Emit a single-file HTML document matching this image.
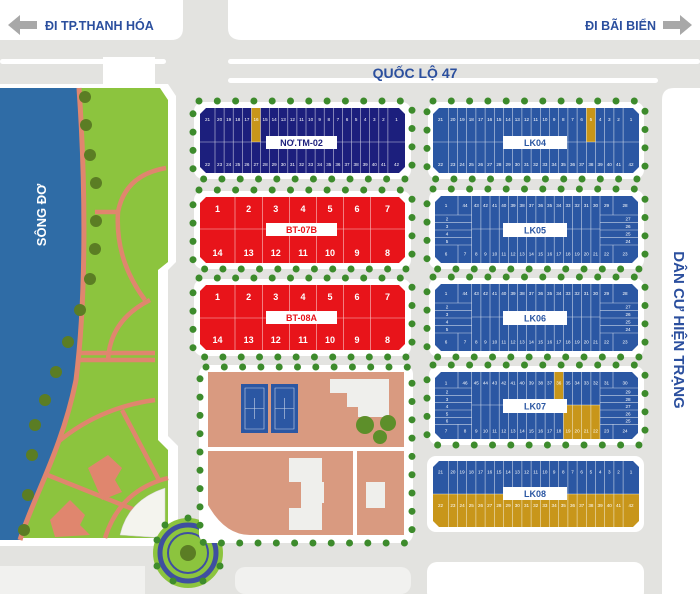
<!DOCTYPE html>
<html><head><meta charset="utf-8"><style>
html,body{margin:0;padding:0;background:#e3e3e0}
svg{display:block}
.n{font-family:"Liberation Sans Narrow","Liberation Sans",sans-serif;font-size:4.6px;fill:#fff;text-anchor:middle}
.b{font-family:"Liberation Sans",sans-serif;font-size:9px;font-weight:bold;fill:#fff;text-anchor:middle}
.lb{font-family:"Liberation Sans Narrow","Liberation Sans",sans-serif;font-size:9px;font-weight:bold;text-anchor:middle}
.ln{stroke:#fff;stroke-width:.6;stroke-opacity:.75;fill:none}
.tr{fill:none;stroke:#3d8b2c;stroke-width:7;stroke-linecap:round;stroke-dasharray:0 18.3}
.wh{fill:#fff}
</style></head><body>
<svg width="700" height="594" viewBox="0 0 700 594" xmlns="http://www.w3.org/2000/svg">
<rect width="700" height="594" fill="#e3e3e0"/>
<!-- top white areas -->
<path d="M0 0H183V28Q183 40 171 40H0Z" class="wh"/>
<path d="M228 0H700V40H242Q228 40 228 28Z" class="wh"/>
<rect x="0" y="59" width="166" height="5" rx="2.5" class="wh"/>
<rect x="228" y="59" width="472" height="5" rx="2.5" class="wh"/>
<rect x="228" y="78" width="430" height="5" rx="2.5" class="wh"/>
<rect x="103" y="57" width="52" height="30" class="wh"/>
<!-- arrows -->
<path d="M8 25L20 15V21H37V29H20V35Z" fill="#a8a8a8"/>
<path d="M692 25L680 15V21H663V29H680V35Z" fill="#a8a8a8"/>
<text x="45" y="30" font-family="Liberation Sans,sans-serif" font-size="12.5" font-weight="bold" fill="#2b4f9e">ĐI TP.THANH HÓA</text>
<text x="656" y="30" font-family="Liberation Sans,sans-serif" font-size="12.5" font-weight="bold" fill="#2b4f9e" text-anchor="end">ĐI BÃI BIỂN</text>
<text x="415" y="78" font-family="Liberation Sans,sans-serif" font-size="14" font-weight="bold" fill="#2b4f9e" text-anchor="middle">QUỐC LỘ 47</text>
<!-- right white area -->
<path d="M674 88H700V594H662V100Q662 88 674 88Z" class="wh"/>
<text transform="translate(674,330) rotate(90)" font-family="Liberation Sans,sans-serif" font-size="15" font-weight="bold" fill="#2b4f9e" text-anchor="middle">DÂN CƯ HIỆN TRẠNG</text>
<!-- park white border and park -->
<path d="M0 84H168L176 96V262L168 270V436L178 446V540Q178 546 172 546H0Z" class="wh"/>
<path d="M0 88H160L168 100V262L158 270V440L168 450V538H0Z" fill="#8cc43e"/>
<!-- park paths -->
<g fill="none" stroke="#e0866e" stroke-width="4.5">
<path d="M166 168Q125 175 118 212Q115 260 145 300"/>
<path d="M95 212H118"/>
<path d="M150 300Q110 320 108 360"/>
<path d="M62 353H155M62 360H155"/>
<path d="M155 400Q80 410 30 470"/>
<path d="M30 468L140 512"/>
<path d="M122 410L160 482"/>
<path d="M168 478Q120 490 105 538"/>
</g>
<path d="M88 468L108 455L122 468L115 480L122 492L102 500Z" fill="#e0866e"/>
<path d="M50 520L70 500L85 515L80 525L90 535L55 537Z" fill="#e0866e"/>
<path d="M120 535Q128 500 165 488V538Z" fill="#f4f4ee" stroke="#ccc" stroke-width=".5"/>
<!-- river -->
<path d="M0 88H79C86 190 86 300 76 380C62 450 32 500 20 540H0Z" fill="#2f6ca6"/>
<path d="M79 88C86 190 86 300 76 380C62 450 32 500 20 540" fill="none" stroke="#e0866e" stroke-width="5"/>
<g fill="#5b7d24"><circle cx="85" cy="97" r="6"/><circle cx="86" cy="125" r="6"/><circle cx="90" cy="155" r="6"/><circle cx="96" cy="183" r="6"/><circle cx="96" cy="221" r="6"/><circle cx="95" cy="249" r="6"/><circle cx="90" cy="279" r="6"/><circle cx="80" cy="310" r="6"/><circle cx="68" cy="342" r="6"/><circle cx="56" cy="372" r="6"/><circle cx="45" cy="400" r="6"/><circle cx="35" cy="425" r="6"/><circle cx="32" cy="455" r="6"/><circle cx="28" cy="495" r="6"/><circle cx="24" cy="530" r="6"/></g>
<text transform="translate(46,215) rotate(-90)" font-family="Liberation Sans,sans-serif" font-size="13" font-weight="bold" fill="#fff" text-anchor="middle">SÔNG ĐƠ</text>
<!-- bottom -->
<rect x="0" y="566" width="145" height="28" fill="#f1f1ef"/>
<rect x="235" y="567" width="176" height="27" rx="10" fill="#f1f1ef"/>
<rect x="427" y="562" width="217" height="40" rx="10" class="wh"/>
<!-- roundabout -->
<circle cx="188" cy="553" r="35" fill="#8cc43e"/>
<circle cx="188" cy="553" r="28" fill="none" stroke="#3f4fa0" stroke-width="5"/>
<circle cx="188" cy="553" r="20" fill="none" stroke="#3f4fa0" stroke-width="2"/>
<circle cx="188" cy="553" r="8" fill="#5b7d24"/>
<g fill="#3d8b2c"><circle cx="157" cy="540" r="3.5"/><circle cx="165" cy="525" r="3.5"/><circle cx="188" cy="518" r="3.5"/><circle cx="211" cy="525" r="3.5"/><circle cx="220" cy="540" r="3.5"/><circle cx="220" cy="566" r="3.5"/><circle cx="157" cy="566" r="3.5"/><circle cx="173" cy="581" r="3.5"/><circle cx="203" cy="581" r="3.5"/></g>

<!-- block white surrounds -->
<g class="wh">
<rect x="194" y="102" width="217" height="77" rx="9"/>
<rect x="194" y="191" width="217" height="78" rx="9"/>
<rect x="194" y="279" width="217" height="77" rx="9"/>
<rect x="428" y="102" width="216" height="77" rx="9"/>
<rect x="429" y="190" width="215" height="79" rx="9"/>
<rect x="429" y="278" width="215" height="79" rx="9"/>
<rect x="429" y="366" width="215" height="79" rx="9"/>
<rect x="427" y="456" width="217" height="76" rx="9"/>
<rect x="199" y="365" width="214" height="178" rx="9"/>
</g>
<!-- trees -->
<rect class="tr" x="193" y="101" width="219" height="78" rx="6"/>
<rect class="tr" x="193" y="190" width="219" height="79" rx="6"/>
<rect class="tr" x="193" y="278" width="219" height="79" rx="6"/>
<rect class="tr" x="427" y="101" width="218" height="78" rx="6"/>
<rect class="tr" x="427" y="189" width="218" height="80" rx="6"/>
<rect class="tr" x="427" y="277" width="218" height="80" rx="6"/>
<rect class="tr" x="427" y="365" width="218" height="80" rx="6"/>
<rect class="tr" x="200" y="367" width="212" height="176" rx="6"/>

<!-- sports -->
<rect x="208" y="372" width="196" height="75" fill="#d99a80"/>
<path d="M208 451H353V535H250Q225 535 208 505Z" fill="#d99a80"/>
<rect x="357" y="451" width="47" height="84" fill="#d99a80"/>
<rect x="241" y="384" width="27" height="49" fill="#2b57a3"/>
<rect x="271" y="384" width="27" height="49" fill="#2b57a3"/>
<g class="ln"><path d="M245 388H264V429H245ZM275 388H294V429H275ZM245 408.5H264M275 408.5H294M254.5 398V419M284.5 398V419"/></g>
<path d="M330 379H389V417H358V407H347V393H330Z" fill="#efefec"/>
<g fill="#5d8f2a"><circle cx="365" cy="425" r="9"/><circle cx="388" cy="423" r="8"/><circle cx="380" cy="437" r="7"/></g>
<path d="M289 458H322V482H324V503H322V530H289V508H301V482H289Z" fill="#efefec"/>
<rect x="366" y="482" width="19" height="26" fill="#efefec"/>

<!-- NƠ.TM-02 -->
<path d="M206 108H399L405 114V167L399 173H206L200 167V114Z" fill="#1c1f7d"/>
<rect x="251.4" y="108" width="9.1" height="34" fill="#c8961a"/>
<path class="ln" d="M200 142H405M215 108V173M224.1 108V173M233.2 108V173M242.3 108V173M251.4 108V173M260.5 108V173M269.6 108V173M278.7 108V173M287.8 108V173M296.9 108V173M306 108V173M315.1 108V173M324.2 108V173M333.3 108V173M342.4 108V173M351.5 108V173M360.6 108V173M369.7 108V173M378.8 108V173M387.9 108V173"/>
<text class="n" y="121"><tspan x="207.5">21</tspan><tspan x="219.6">20</tspan><tspan x="228.7">19</tspan><tspan x="237.8">18</tspan><tspan x="246.9">17</tspan><tspan x="256">16</tspan><tspan x="265.1">15</tspan><tspan x="274.2">14</tspan><tspan x="283.3">13</tspan><tspan x="292.4">12</tspan><tspan x="301.5">11</tspan><tspan x="310.6">10</tspan><tspan x="319.7">9</tspan><tspan x="328.8">8</tspan><tspan x="337.9">7</tspan><tspan x="347">6</tspan><tspan x="356.1">5</tspan><tspan x="365.2">4</tspan><tspan x="374.3">3</tspan><tspan x="383.4">2</tspan><tspan x="396.5">1</tspan></text>
<text class="n" y="166"><tspan x="207.5">22</tspan><tspan x="219.6">23</tspan><tspan x="228.7">24</tspan><tspan x="237.8">25</tspan><tspan x="246.9">26</tspan><tspan x="256">27</tspan><tspan x="265.1">28</tspan><tspan x="274.2">29</tspan><tspan x="283.3">30</tspan><tspan x="292.4">31</tspan><tspan x="301.5">32</tspan><tspan x="310.6">33</tspan><tspan x="319.7">34</tspan><tspan x="328.8">35</tspan><tspan x="337.9">36</tspan><tspan x="347">37</tspan><tspan x="356.1">38</tspan><tspan x="365.2">39</tspan><tspan x="374.3">40</tspan><tspan x="383.4">41</tspan><tspan x="396.5">42</tspan></text>
<rect x="266" y="136" width="71" height="13" fill="#fff"/>
<text class="lb" x="301.5" y="146" fill="#1c1f7d">NƠ.TM-02</text>

<!-- BT-07B -->
<path d="M206 197H399L405 203V257L399 263H206L200 257V203Z" fill="#e8141a"/>
<path class="ln" d="M200 229H405M235 197V263M262.3 197V263M289.3 197V263M316.7 197V263M343.3 197V263M370.7 197V263"/>
<text class="b" y="212"><tspan x="217.5">1</tspan><tspan x="248.6">2</tspan><tspan x="275.8">3</tspan><tspan x="303">4</tspan><tspan x="330">5</tspan><tspan x="357">6</tspan><tspan x="387.5">7</tspan></text>
<text class="b" y="256"><tspan x="217.5">14</tspan><tspan x="248.6">13</tspan><tspan x="275.8">12</tspan><tspan x="303">11</tspan><tspan x="330">10</tspan><tspan x="357">9</tspan><tspan x="387.5">8</tspan></text>
<rect x="266" y="223" width="71" height="13" fill="#fff"/>
<text class="lb" x="301.5" y="233" fill="#e8141a">BT-07B</text>

<!-- BT-08A -->
<path d="M206 285H399L405 291V344L399 350H206L200 344V291Z" fill="#e8141a"/>
<path class="ln" d="M200 318H405M235 285V350M262.3 285V350M289.3 285V350M316.7 285V350M343.3 285V350M370.7 285V350"/>
<text class="b" y="300"><tspan x="217.5">1</tspan><tspan x="248.6">2</tspan><tspan x="275.8">3</tspan><tspan x="303">4</tspan><tspan x="330">5</tspan><tspan x="357">6</tspan><tspan x="387.5">7</tspan></text>
<text class="b" y="343"><tspan x="217.5">14</tspan><tspan x="248.6">13</tspan><tspan x="275.8">12</tspan><tspan x="303">11</tspan><tspan x="330">10</tspan><tspan x="357">9</tspan><tspan x="387.5">8</tspan></text>
<rect x="266" y="311" width="71" height="13" fill="#fff"/>
<text class="lb" x="301.5" y="321" fill="#e8141a">BT-08A</text>

<!-- LK04 -->
<path d="M439 108H633L639 114V167L633 173H439L433 167V114Z" fill="#2b57a3"/>
<rect x="586.3" y="108" width="9.2" height="34" fill="#c8961a"/>
<path id="c20" class="ln" d="M433 142H639M448.3 108V173M457.5 108V173M466.7 108V173M475.9 108V173M485.1 108V173M494.3 108V173M503.5 108V173M512.7 108V173M521.9 108V173M531.1 108V173M540.3 108V173M549.5 108V173M558.7 108V173M567.9 108V173M577.1 108V173M586.3 108V173M595.5 108V173M604.7 108V173M613.9 108V173M623.1 108V173"/>
<text class="n" y="121"><tspan x="440.5">21</tspan><tspan x="452.9">20</tspan><tspan x="462.1">19</tspan><tspan x="471.3">18</tspan><tspan x="480.5">17</tspan><tspan x="489.7">16</tspan><tspan x="498.9">15</tspan><tspan x="508.1">14</tspan><tspan x="517.3">13</tspan><tspan x="526.5">12</tspan><tspan x="535.7">11</tspan><tspan x="544.9">10</tspan><tspan x="554.1">9</tspan><tspan x="563.3">8</tspan><tspan x="572.5">7</tspan><tspan x="581.7">6</tspan><tspan x="590.9">5</tspan><tspan x="600.1">4</tspan><tspan x="609.3">3</tspan><tspan x="618.5">2</tspan><tspan x="631">1</tspan></text>
<text class="n" y="166"><tspan x="440.5">22</tspan><tspan x="452.9">23</tspan><tspan x="462.1">24</tspan><tspan x="471.3">25</tspan><tspan x="480.5">26</tspan><tspan x="489.7">27</tspan><tspan x="498.9">28</tspan><tspan x="508.1">29</tspan><tspan x="517.3">30</tspan><tspan x="526.5">31</tspan><tspan x="535.7">32</tspan><tspan x="544.9">33</tspan><tspan x="554.1">34</tspan><tspan x="563.3">35</tspan><tspan x="572.5">36</tspan><tspan x="581.7">37</tspan><tspan x="590.9">38</tspan><tspan x="600.1">39</tspan><tspan x="609.3">40</tspan><tspan x="618.5">41</tspan><tspan x="631">42</tspan></text>
<rect x="503" y="136" width="64" height="13" fill="#fff"/>
<text class="lb" x="535" y="146" fill="#2b57a3">LK04</text>

<!-- LK05 -->
<path d="M441 196H632L638 202V257L632 263H441L435 257V202Z" fill="#2b57a3"/>
<path id="g5" class="ln" d="M458 196V215M458 245V263M613 196V215M613 245V263M471.7 196V263M480.9 196V263M490 196V263M499.2 196V263M508.4 196V263M517.5 196V263M526.7 196V263M535.9 196V263M545.1 196V263M554.2 196V263M563.4 196V263M572.6 196V263M581.7 196V263M590.9 196V263M600 196V263M435 215H471.7M435 222.3H471.7M435 230H471.7M435 237.3H471.7M435 245H471.7M600 215H638M600 222.3H638M600 230H638M600 237.3H638M600 245H638M471.7 229H600"/>
<text class="n" y="207"><tspan x="446">1</tspan><tspan x="465">44</tspan><tspan x="476.3">43</tspan><tspan x="485.4">42</tspan><tspan x="494.6">41</tspan><tspan x="503.8">40</tspan><tspan x="513">39</tspan><tspan x="522.1">38</tspan><tspan x="531.3">37</tspan><tspan x="540.5">36</tspan><tspan x="549.6">35</tspan><tspan x="558.8">34</tspan><tspan x="568">33</tspan><tspan x="577.1">32</tspan><tspan x="586.3">31</tspan><tspan x="595.5">30</tspan><tspan x="606.5">29</tspan><tspan x="625">28</tspan></text>
<text class="n" y="255.5"><tspan x="446">6</tspan><tspan x="465">7</tspan><tspan x="476.3">8</tspan><tspan x="485.4">9</tspan><tspan x="494.6">10</tspan><tspan x="503.8">11</tspan><tspan x="513">12</tspan><tspan x="522.1">13</tspan><tspan x="531.3">14</tspan><tspan x="540.5">15</tspan><tspan x="549.6">16</tspan><tspan x="558.8">17</tspan><tspan x="568">18</tspan><tspan x="577.1">19</tspan><tspan x="586.3">20</tspan><tspan x="595.5">21</tspan><tspan x="606.5">22</tspan><tspan x="625">23</tspan></text>
<text class="n"><tspan x="447" y="220.3">2</tspan><tspan x="447" y="227.8">3</tspan><tspan x="447" y="235.3">4</tspan><tspan x="447" y="242.8">5</tspan><tspan x="628" y="220.3">27</tspan><tspan x="628" y="227.8">26</tspan><tspan x="628" y="235.3">25</tspan><tspan x="628" y="242.8">24</tspan></text>
<rect x="503" y="223" width="64" height="14" fill="#fff"/>
<text class="lb" x="535" y="233.5" fill="#2b57a3">LK05</text>

<!-- LK06 -->
<path d="M441 284H632L638 290V345L632 351H441L435 345V290Z" fill="#2b57a3"/>
<path class="ln" transform="translate(0,88)" d="M458 196V215M458 245V263M613 196V215M613 245V263M471.7 196V263M480.9 196V263M490 196V263M499.2 196V263M508.4 196V263M517.5 196V263M526.7 196V263M535.9 196V263M545.1 196V263M554.2 196V263M563.4 196V263M572.6 196V263M581.7 196V263M590.9 196V263M600 196V263M435 215H471.7M435 222.3H471.7M435 230H471.7M435 237.3H471.7M435 245H471.7M600 215H638M600 222.3H638M600 230H638M600 237.3H638M600 245H638M471.7 229H600"/>
<text class="n" y="295"><tspan x="446">1</tspan><tspan x="465">44</tspan><tspan x="476.3">43</tspan><tspan x="485.4">42</tspan><tspan x="494.6">41</tspan><tspan x="503.8">40</tspan><tspan x="513">39</tspan><tspan x="522.1">38</tspan><tspan x="531.3">37</tspan><tspan x="540.5">36</tspan><tspan x="549.6">35</tspan><tspan x="558.8">34</tspan><tspan x="568">33</tspan><tspan x="577.1">32</tspan><tspan x="586.3">31</tspan><tspan x="595.5">30</tspan><tspan x="606.5">29</tspan><tspan x="625">28</tspan></text>
<text class="n" y="343.5"><tspan x="446">6</tspan><tspan x="465">7</tspan><tspan x="476.3">8</tspan><tspan x="485.4">9</tspan><tspan x="494.6">10</tspan><tspan x="503.8">11</tspan><tspan x="513">12</tspan><tspan x="522.1">13</tspan><tspan x="531.3">14</tspan><tspan x="540.5">15</tspan><tspan x="549.6">16</tspan><tspan x="558.8">17</tspan><tspan x="568">18</tspan><tspan x="577.1">19</tspan><tspan x="586.3">20</tspan><tspan x="595.5">21</tspan><tspan x="606.5">22</tspan><tspan x="625">23</tspan></text>
<text class="n"><tspan x="447" y="308.3">2</tspan><tspan x="447" y="315.8">3</tspan><tspan x="447" y="323.3">4</tspan><tspan x="447" y="330.8">5</tspan><tspan x="628" y="308.3">27</tspan><tspan x="628" y="315.8">26</tspan><tspan x="628" y="323.3">25</tspan><tspan x="628" y="330.8">24</tspan></text>
<rect x="503" y="311" width="64" height="14" fill="#fff"/>
<text class="lb" x="535" y="321.5" fill="#2b57a3">LK06</text>

<!-- LK07 -->
<path d="M441 372H632L638 378V433L632 439H441L435 433V378Z" fill="#2b57a3"/>
<rect x="554.2" y="372" width="9.2" height="33" fill="#c8961a"/>
<rect x="563.4" y="405" width="36.6" height="34" fill="#c8961a"/>
<path class="ln" d="M458 372V388M458 424V439M613 372V388M613 424V439M471.7 372V439M480.9 372V439M490 372V439M499.2 372V439M508.4 372V439M517.5 372V439M526.7 372V439M535.9 372V439M545.1 372V439M554.2 372V439M563.4 372V439M572.6 372V439M581.7 372V439M590.9 372V439M600 372V439M435 388H471.7M435 395.7H471.7M435 402.7H471.7M435 410H471.7M435 417.3H471.7M435 424.3H471.7M600 388H638M600 395.7H638M600 402.7H638M600 410H638M600 417.3H638M600 424.3H638M471.7 405H600"/>
<text class="n" y="384.5"><tspan x="446">1</tspan><tspan x="465">46</tspan><tspan x="476.3">45</tspan><tspan x="485.4">44</tspan><tspan x="494.6">43</tspan><tspan x="503.8">42</tspan><tspan x="513">41</tspan><tspan x="522.1">40</tspan><tspan x="531.3">39</tspan><tspan x="540.5">38</tspan><tspan x="549.6">37</tspan><tspan x="558.8">36</tspan><tspan x="568">35</tspan><tspan x="577.1">34</tspan><tspan x="586.3">33</tspan><tspan x="595.5">32</tspan><tspan x="606.5">31</tspan><tspan x="625">30</tspan></text>
<text class="n" y="432.5"><tspan x="446">7</tspan><tspan x="465">8</tspan><tspan x="476.3">9</tspan><tspan x="485.4">10</tspan><tspan x="494.6">11</tspan><tspan x="503.8">12</tspan><tspan x="513">13</tspan><tspan x="522.1">14</tspan><tspan x="531.3">15</tspan><tspan x="540.5">16</tspan><tspan x="549.6">17</tspan><tspan x="558.8">18</tspan><tspan x="568">19</tspan><tspan x="577.1">20</tspan><tspan x="586.3">21</tspan><tspan x="595.5">22</tspan><tspan x="606.5">23</tspan><tspan x="625">24</tspan></text>
<text class="n"><tspan x="447" y="393.6">2</tspan><tspan x="447" y="400.8">3</tspan><tspan x="447" y="408">4</tspan><tspan x="447" y="415.3">5</tspan><tspan x="447" y="422.5">6</tspan><tspan x="628" y="393.6">29</tspan><tspan x="628" y="400.8">28</tspan><tspan x="628" y="408">27</tspan><tspan x="628" y="415.3">26</tspan><tspan x="628" y="422.5">25</tspan></text>
<rect x="503" y="399" width="64" height="14" fill="#fff"/>
<text class="lb" x="535" y="409.5" fill="#2b57a3">LK07</text>

<!-- LK08 -->
<path d="M439 461H633L639 467V494H433V467Z" fill="#2b57a3"/>
<path d="M433 494H639V521L633 527H439L433 521Z" fill="#c8961a"/>
<path class="ln" d="M433 494H639M448.3 461V527M457.5 461V527M466.7 461V527M475.9 461V527M485.1 461V527M494.3 461V527M503.5 461V527M512.7 461V527M521.9 461V527M531.1 461V527M540.3 461V527M549.5 461V527M558.7 461V527M567.9 461V527M577.1 461V527M586.3 461V527M595.5 461V527M604.7 461V527M613.9 461V527M623.1 461V527"/>
<text class="n" y="473.5"><tspan x="440.5">21</tspan><tspan x="452.9">20</tspan><tspan x="462.1">19</tspan><tspan x="471.3">18</tspan><tspan x="480.5">17</tspan><tspan x="489.7">16</tspan><tspan x="498.9">15</tspan><tspan x="508.1">14</tspan><tspan x="517.3">13</tspan><tspan x="526.5">12</tspan><tspan x="535.7">11</tspan><tspan x="544.9">10</tspan><tspan x="554.1">9</tspan><tspan x="563.3">8</tspan><tspan x="572.5">7</tspan><tspan x="581.7">6</tspan><tspan x="590.9">5</tspan><tspan x="600.1">4</tspan><tspan x="609.3">3</tspan><tspan x="618.5">2</tspan><tspan x="631">1</tspan></text>
<text class="n" y="507"><tspan x="440.5">22</tspan><tspan x="452.9">23</tspan><tspan x="462.1">24</tspan><tspan x="471.3">25</tspan><tspan x="480.5">26</tspan><tspan x="489.7">27</tspan><tspan x="498.9">28</tspan><tspan x="508.1">29</tspan><tspan x="517.3">30</tspan><tspan x="526.5">31</tspan><tspan x="535.7">32</tspan><tspan x="544.9">33</tspan><tspan x="554.1">34</tspan><tspan x="563.3">35</tspan><tspan x="572.5">36</tspan><tspan x="581.7">37</tspan><tspan x="590.9">38</tspan><tspan x="600.1">39</tspan><tspan x="609.3">40</tspan><tspan x="618.5">41</tspan><tspan x="631">42</tspan></text>
<rect x="503" y="487" width="64" height="13" fill="#fff"/>
<text class="lb" x="535" y="497" fill="#2b57a3">LK08</text>
</svg>
</body></html>
